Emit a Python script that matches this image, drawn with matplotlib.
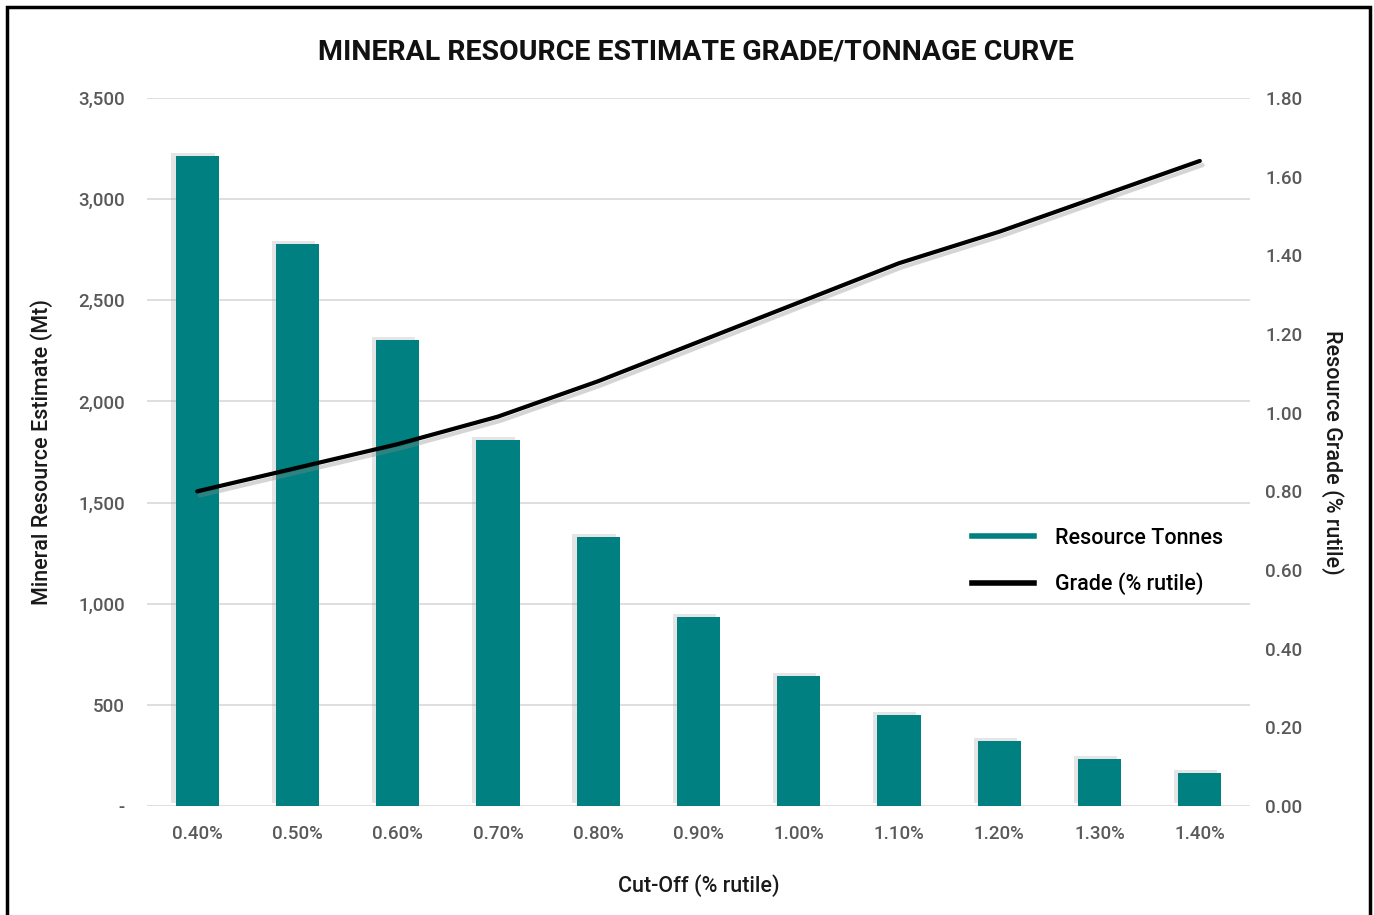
import matplotlib
matplotlib.use("Agg")
import matplotlib.pyplot as plt
import matplotlib.patheffects as pe
from matplotlib.patches import Rectangle
from matplotlib.lines import Line2D
from matplotlib.ticker import FuncFormatter

categories = ["0.40%", "0.50%", "0.60%", "0.70%", "0.80%", "0.90%",
              "1.00%", "1.10%", "1.20%", "1.30%", "1.40%"]
tonnes = [3215, 2780, 2305, 1810, 1330, 935, 643, 450, 322, 232, 163]
grade = [0.80, 0.86, 0.92, 0.99, 1.08, 1.18, 1.28, 1.38, 1.46, 1.55, 1.64]
left_ticks = [0, 500, 1000, 1500, 2000, 2500, 3000, 3500]
right_ticks = [0.0, 0.2, 0.4, 0.6, 0.8, 1.0, 1.2, 1.4, 1.6, 1.8]

plt.rcParams['font.family'] = ['Roboto', 'DejaVu Sans']
plt.rcParams['font.weight'] = 500
teal = "#008080"
tick_col = "#595959"

fig = plt.figure(figsize=(13.74, 9.15), dpi=100)
ax = fig.add_axes([0.107, 0.1191, 0.8027, 0.7738])
ax2 = ax.twinx()

x = list(range(len(categories)))
ax.bar(x, tonnes, width=0.43, color=teal, zorder=3,
       path_effects=[pe.SimplePatchShadow(offset=(-3, 2), shadow_rgbFace="#999999", alpha=0.25), pe.Normal()])
ax2.plot(x, grade, color="black", lw=3, zorder=4, solid_capstyle="round",
         path_effects=[pe.SimpleLineShadow(offset=(2, -3), shadow_color="#888888", alpha=0.35), pe.Normal()])

ax.set_xlim(-0.5, len(categories) - 0.5)
ax.set_ylim(0, 3500)
ax2.set_ylim(0, 1.8)
ax.set_yticks(left_ticks)
ax2.set_yticks(right_ticks)
ax.yaxis.set_major_formatter(FuncFormatter(lambda v, p: "-" if v == 0 else f"{int(v):,}"))
ax2.yaxis.set_major_formatter(FuncFormatter(lambda v, p: f"{v:.2f}"))
ax.set_xticks(x)
ax.set_xticklabels(categories)

ax.grid(axis="y", color="#d9d9d9", lw=1.2, zorder=0)
ax.set_axisbelow(True)
for a in (ax, ax2):
    for s in a.spines.values():
        s.set_visible(False)
    a.tick_params(length=0, labelsize=13.5, labelcolor=tick_col)
ax.tick_params(axis="y", pad=16)
ax2.tick_params(axis="y", pad=11)
ax.tick_params(axis="x", pad=14)

ax.set_ylabel("Mineral Resource Estimate (Mt)", fontsize=15.5, fontweight=500, color="#1a1a1a", labelpad=18)
ax2.set_ylabel("Resource Grade (% rutile)", fontsize=15.5, fontweight=500, color="#1a1a1a", rotation=270, labelpad=30)
ax.set_xlabel("Cut-Off (% rutile)", fontsize=15.5, fontweight=500, color="#1a1a1a", labelpad=22)

fig.text(0.5065, 0.943, "MINERAL RESOURCE ESTIMATE GRADE/TONNAGE CURVE", ha="center", va="center",
         fontsize=20.5, fontweight="bold", color="#111111")

handles = [Line2D([0], [0], color=teal, lw=4), Line2D([0], [0], color="black", lw=4)]
ax.legend(handles, ["Resource Tonnes", "Grade (% rutile)"], loc="center left",
          bbox_to_anchor=(0.73, 0.345), frameon=False, fontsize=15.5, handlelength=2.9,
          handletextpad=1.0, labelspacing=1.1)

fig.patches.append(Rectangle((7 / 1374, -0.01), 1363 / 1374, 1 - 7 / 915 + 0.01, transform=fig.transFigure,
                             fill=False, edgecolor="black", lw=2.5))

fig.savefig("out.png", dpi=100)
